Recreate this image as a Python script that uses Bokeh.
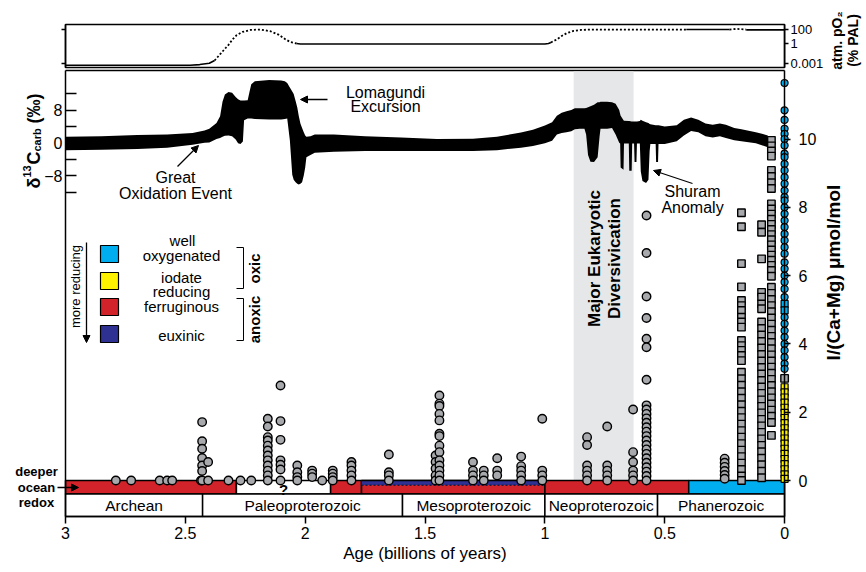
import numpy as np
from bokeh.plotting import figure
from bokeh.models import (Range1d, LinearAxis, FixedTicker, Label, Arrow,
                          NormalHead, NumeralTickFormatter)
from bokeh.embed import file_html
from bokeh.resources import INLINE

FONT = "Liberation Sans"

# ---------------- data ----------------
# atmospheric O2, log10(% PAL)
o2_solid_a_age = [3.0, 2.48, 2.44, 2.40, 2.378]
o2_solid_a_val = [-3.2, -3.2, -3.1, -2.9, -2.5]
o2_dot_a_age = [2.378, 2.353, 2.333, 2.320, 2.303, 2.287, 2.262, 2.228, 2.186, 2.145, 2.111, 2.082, 2.061, 2.036]
o2_dot_a_val = [-2.5, -1.5, -0.7, -0.2, 0.6, 1.2, 1.7, 2.0, 2.05, 1.8, 1.3, 0.6, 0.2, 0.0]
o2_solid_b_age = [2.036, 2.02, 1.0, 0.985, 0.975]
o2_solid_b_val = [0.0, -0.08, -0.08, 0.0, 0.15]
o2_dot_b_age = [0.975, 0.95, 0.93, 0.91, 0.88, 0.85, 0.80, 0.41]
o2_dot_b_val = [0.15, 0.6, 1.1, 1.5, 1.85, 2.0, 2.05, 2.05]
o2_solid_c_age = [0.41, 0.23]
o2_solid_c_val = [2.05, 2.05]
o2_dot_c_age = [0.23, 0.20, 0.16]
o2_dot_c_val = [2.05, 2.15, 2.05]
o2_solid_d_age = [0.16, 0.0]
o2_solid_d_val = [2.0, 2.0]

# delta13C carb envelope (permil)
c_age = [3.00, 2.85, 2.70, 2.576, 2.47, 2.42, 2.40, 2.37, 2.355, 2.345,
         2.335, 2.32, 2.305, 2.29, 2.28, 2.27, 2.26, 2.255, 2.240, 2.232,
         2.225, 2.21, 2.15, 2.10, 2.085, 2.075, 2.064, 2.054, 2.048, 2.040,
         2.033, 2.027, 2.020, 2.013, 2.006, 2.000, 1.995, 1.978, 1.96, 1.88,
         1.75, 1.60, 1.45, 1.30, 1.20, 1.10, 1.05, 1.00, 0.97, 0.95,
         0.93, 0.91, 0.89, 0.875, 0.855, 0.835, 0.828, 0.82, 0.81, 0.795,
         0.78, 0.772, 0.768, 0.74, 0.72, 0.705,
         0.69, 0.686, 0.684, 0.672, 0.670, 0.650, 0.648, 0.638, 0.636, 0.628,
         0.626, 0.618, 0.616, 0.604, 0.600, 0.593, 0.578, 0.568, 0.563, 0.560,
         0.538, 0.536, 0.528, 0.526, 0.50,
         0.45, 0.42, 0.39, 0.36, 0.33, 0.30, 0.27, 0.245, 0.21, 0.18, 0.12, 0.07]
c_hi = [1.5, 1.6, 1.9, 2.0, 2.4, 3.0, 3.4, 4.8, 6.5, 10.0,
        11.8, 12.4, 12.2, 11.2, 10.6, 10.3, 10.3, 10.3, 10.4, 12.5,
        14.3, 15.0, 15.3, 15.2, 15.0, 14.6, 13.5, 12.5, 11.9, 10.2,
        8.6, 6.6, 4.7, 3.6, 2.6, 1.8, 1.5, 1.6, 2.0, 2.0,
        1.6, 1.3, 0.9, 1.0, 1.5, 2.5, 3.2, 4.2, 5.0, 6.6,
        7.3, 7.7, 8.0, 8.4, 8.4, 8.4, 8.5, 8.7, 8.9, 9.3,
        9.9, 9.9, 10.0, 10.0, 9.9, 9.5,
        8.0, 7.0, 6.6, 5.5, 5.4, 5.3, 5.3, 5.2, 5.2, 5.2,
        5.2, 5.2, 5.2, 5.3, 5.6, 5.4, 5.0, 4.8, 4.6, 4.5,
        4.3, 4.3, 4.3, 4.3, 4.0,
        4.3, 5.6, 6.2, 5.6, 4.7, 4.4, 4.7, 4.4, 3.6, 3.3, 2.6, 1.8]
c_lo = [-1.8, -1.7, -1.5, -1.2, -0.5, 0.0, 0.1, 0.9, 1.2, 1.5,
        1.7, 1.8, 1.6, 0.8, -0.1, -0.3, 0.3, 5.5, 5.9, 5.9,
        5.9, 5.8, 5.7, 5.7, 5.8, 5.9, 0.6, -7.8, -9.0, -9.6,
        -10.0, -10.2, -10.0, -9.6, -8.0, -6.0, -3.5, -3.0, -2.4, -2.2,
        -2.0, -2.0, -2.0, -2.0, -1.8, -1.2, -0.8, -0.1, 0.5, 2.0,
        2.4, 2.6, 2.8, 3.3, 3.4, 3.4, 2.0, -3.0, -4.6, -4.7,
        -3.5, 1.5, 3.4, 3.4, 3.6, 2.0,
        0.0, -0.2, -6.0, -6.6, -0.2, -0.2, -6.8, -6.8, -0.2, -0.2,
        -4.7, -4.7, -0.2, -0.2, -7.0, -9.3, -9.8, -9.0, -2.0, -0.3,
        -0.3, -4.7, -4.7, -0.3, -0.3,
        0.4, 1.8, 2.9, 2.6, 1.6, 1.3, 1.6, 1.2, 0.6, 0.4, -0.1, -1.1]

# I/(Ca+Mg) gray circles: one age per column, list of values
circ_age = [2.79, 2.726, 2.607, 2.576, 2.555, 2.435, 2.43, 2.405, 2.32, 2.27, 2.225,
            2.156, 2.103, 2.033, 1.971, 1.929, 1.885, 1.807, 1.651,
            1.456, 1.44, 1.30, 1.255, 1.199, 1.099, 1.011,
            0.824, 0.74, 0.632, 0.576, 0.25]
circ_vals = [[0], [0], [0], [0], [0], [0],
             [1.71, 1.15, 0.93, 0.66, 0.44, 0.28, 0],
             [0.54, 0], [0], [0], [0],
             [1.81, 1.58, 1.27, 1.17, 1.02, 0.88, 0.73, 0.59, 0.44, 0.29, 0.15, 0],
             [2.78, 1.74, 1.19, 0.59, 0.46, 0.32, 0],
             [0.44, 0.24, 0.1, 0],
             [0.29, 0.2, 0.1],
             [0],
             [0.29, 0.2, 0.1, 0],
             [0.54, 0.44, 0.29, 0.15, 0],
             [0.76, 0.24, 0.15, 0],
             [0.73, 0.54, 0.35, 0.15, 0],
             [2.49, 2.25, 2.18, 1.95, 1.76, 1.37, 1.3, 1.02, 0.83, 0.59, 0.44, 0.29, 0.15, 0],
             [0.54, 0.29, 0.15, 0],
             [0.29, 0.15, 0],
             [0.65, 0.29, 0.15],
             [0.70, 0.42, 0.29, 0.15, 0],
             [1.81, 0.29, 0.15, 0],
             [1.27, 1.04, 0.44, 0.29, 0.15, 0],
             [1.58, 0.44, 0.29, 0.15, 0],
             [2.08, 0.83, 0.54, 0.29, 0.15, 0],
             [7.76, 6.66, 5.39, 4.76, 4.15, 3.9, 2.95, 2.2, 2.08, 1.95, 1.82, 1.69, 1.56,
              1.43, 1.3, 1.17, 1.04, 0.91, 0.78, 0.65, 0.52, 0.39, 0.26, 0.13, 0],
             [0.64, 0.52, 0.4, 0.28, 0.16, 0.05]]

# gray squares (Phanerozoic)
sq_age = [0.18, 0.096, 0.055, 0.0]
sq_vals = [[7.84, 7.43, 6.35, 5.67, 5.27, 5.12, 4.98, 4.78, 4.64, 4.49, 4.1, 3.95, 3.81, 3.66,
            3.51, 3.17, 2.98, 2.79, 2.6, 2.41, 2.22, 2.03, 1.84, 1.65, 1.46, 1.27, 1.08, 0.89,
            0.7, 0.51, 0.32, 0.13, 0.0],
           [7.49, 7.27, 6.49, 5.51, 5.37, 5.17, 5.03, 4.64, 4.45, 4.26, 4.07, 3.88, 3.69, 3.5,
            3.31, 3.12, 2.93, 2.74, 2.55, 2.36, 2.17, 1.98, 1.79, 1.6, 1.41, 1.22, 1.03, 0.84,
            0.65, 0.46, 0.27, 0.08],
           [9.96, 9.8, 9.65, 9.5, 9.08, 8.9, 8.72, 8.55, 8.1, 7.95, 7.8, 7.65, 7.5, 7.35, 7.2,
            7.05, 6.9, 6.75, 6.6, 6.45, 6.3, 6.15, 5.98, 5.66, 5.48, 5.3, 5.12, 4.94, 4.76, 4.58,
            4.4, 4.22, 4.04, 3.86, 3.68, 3.5, 3.32, 3.14, 2.96, 2.78, 2.6, 2.42, 2.24, 2.06,
            1.88, 1.7, 1.32],
           [2.99]]

# modern (age 0) samples
blue_circ = [11.64, 10.84, 10.56, 10.3, 10.15, 10.0, 9.81, 9.57, 9.47, 9.27, 9.08, 8.88,
             8.69, 8.49, 8.3, 8.2, 8.0, 7.81, 7.61, 7.42, 7.22, 7.03, 6.83, 6.64, 6.39,
             6.2, 6.0, 5.81, 5.61, 5.37, 4.78, 4.59, 4.39, 4.2, 4.0, 3.81, 3.61, 3.42, 3.27]
blue_sq = [5.17, 4.98]
yellow_sq = [2.73, 2.58, 2.43, 2.28, 2.13, 1.98, 1.83, 1.68, 1.53, 1.38, 1.23, 1.08,
             0.93, 0.78, 0.63, 0.48, 0.33, 0.18, 0.05]

# eons
eon_names = ["Archean", "Paleoproterozoic", "Mesoproterozoic", "Neoproterozoic", "Phanerozoic"]
eon_start = [3.0, 2.428, 1.594, 1.0, 0.53]
eon_end = [2.428, 1.594, 1.0, 0.53, 0.0]

# deeper ocean redox state
redox_start = [3.0, 2.287, 1.894, 1.765, 1.0, 0.40]
redox_end = [2.287, 1.894, 1.765, 1.0, 0.40, 0.0]
redox_state = ["ferruginous", "unknown", "ferruginous", "euxinic", "ferruginous", "oxic"]

euk_start, euk_end = 0.88, 0.63

COL = {"oxic": "#00aeef", "iodate": "#fff200", "ferruginous": "#d2232a",
       "euxinic": "#2e3192", "unknown": "white"}

# ---------------- pixel helpers (layout only) ----------------
W, H = 862, 568


def ax(px):
    return 3.0 - (px - 65.0) / 239.7


def ay(py):
    return (480.0 - py) / 34.15


def ac(py):
    return (142.3 - py) / 4.1


def ao(py):
    return (43.0 - py) / 6.8


p = figure(width=W, height=H, x_range=Range1d(ax(0), ax(W)), y_range=Range1d(ay(H), ay(0)),
           y_axis_location="right", output_backend="svg", toolbar_location=None, min_border=0)
p.extra_y_ranges = {"d13c": Range1d(ac(H), ac(0)), "o2": Range1d(ao(H), ao(0))}
p.grid.visible = False
p.outline_line_color = None


def txt(x, y, s, size=16, bold=False, angle=0.0, align="center", baseline="middle", yname="default"):
    p.add_layout(Label(x=x, y=y, y_range_name=yname, text=s, text_font=FONT, text_font_size=f"{size}px",
                       text_font_style="bold" if bold else "normal", angle=angle,
                       text_align=align, text_baseline=baseline, text_color="black"))


def arrow(x0, y0, x1, y1):
    p.add_layout(Arrow(end=NormalHead(size=7, fill_color="black", line_color="black", line_width=1),
                       x_start=x0, y_start=y0, x_end=x1, y_end=y1,
                       line_width=1.3, line_color="black"))


def style_axis(a, size="16px"):
    a.axis_line_width = 1.5
    a.major_tick_line_width = 1.5
    a.minor_tick_out = 0
    a.minor_tick_in = 0
    a.major_tick_in = 0
    a.major_label_text_font = FONT
    a.major_label_text_font_size = size
    a.major_label_text_color = "black"
    a.axis_line_color = "black"
    a.major_tick_line_color = "black"


# ---------------- axes ----------------
xa = p.xaxis[0]
style_axis(xa)
xa.fixed_location = ay(516)
xa.bounds = (0, 3)
xa.ticker = FixedTicker(ticks=[0, 0.5, 1, 1.5, 2, 2.5, 3])
xa.formatter = NumeralTickFormatter(format="0.[0]")
xa.major_tick_out = 7
xa.major_label_standoff = 3
xa.axis_label = "Age (billions of years)"
xa.axis_label_text_font = FONT
xa.axis_label_text_font_size = "17px"
xa.axis_label_text_font_style = "normal"
xa.axis_label_text_color = "black"
xa.axis_label_standoff = 2

ra = p.yaxis[0]
style_axis(ra)
ra.fixed_location = 0
ra.bounds = (ay(516), ay(70))
ra.ticker = FixedTicker(ticks=[0, 2, 4, 6, 8, 10])
ra.major_tick_out = 6
ra.major_label_standoff = 8

la = LinearAxis(y_range_name="d13c", ticker=FixedTicker(ticks=[-12, -8, -4, 0, 4, 8, 12]),
                major_label_overrides={-12: "", -8: "−8", -4: "", 0: "0", 4: "", 8: "8", 12: ""},
                fixed_location=3.0, bounds=(ac(516), ac(70)))
style_axis(la)
la.major_tick_in = 11
la.major_tick_out = 0
la.major_label_standoff = 3
p.add_layout(la, "left")

o2r = LinearAxis(y_range_name="o2", ticker=FixedTicker(ticks=[-3, 0, 2]),
                 major_label_overrides={-3: "0.001", 0: "1", 2: "100"},
                 fixed_location=0.0, bounds=(ao(67), ao(24)))
style_axis(o2r, "13px")
o2r.major_tick_out = 4
o2r.major_label_standoff = 2
p.add_layout(o2r, "right")

o2l = LinearAxis(y_range_name="o2", ticker=FixedTicker(ticks=[-3, 2]),
                 major_label_overrides={-3: "", 2: ""},
                 fixed_location=3.0, bounds=(ao(67), ao(24)))
style_axis(o2l, "13px")
o2l.major_tick_out = 4
p.add_layout(o2l, "left")

# ---------------- O2 panel ----------------
p.quad(left=[3.0], right=[0.0], bottom=[ao(67)], top=[ao(24)], y_range_name="o2",
       fill_color=None, line_color="black", line_width=1.5)
for a, v in [(o2_solid_a_age, o2_solid_a_val), (o2_solid_b_age, o2_solid_b_val),
             (o2_solid_c_age, o2_solid_c_val), (o2_solid_d_age, o2_solid_d_val)]:
    p.line(a, v, y_range_name="o2", line_color="black", line_width=1.6)
for a, v in [(o2_dot_a_age, o2_dot_a_val), (o2_dot_b_age, o2_dot_b_val), (o2_dot_c_age, o2_dot_c_val)]:
    p.line(a, v, y_range_name="o2", line_color="black", line_width=1.8, line_dash="2 2")
txt(ax(836), ao(40), "atm. pO₂", size=14, bold=True, angle=np.pi / 2, yname="o2")
txt(ax(852), ao(40), "(% PAL)", size=14, bold=True, angle=np.pi / 2, yname="o2")

# ---------------- main panel ----------------
p.line([3.0, 0.0], [ay(70), ay(70)], line_color="black", line_width=1.5)

# eukaryotic diversification band
p.quad(left=[euk_start], right=[euk_end], bottom=[0], top=[ay(71)],
       fill_color="#e6e7e8", line_color=None)

# d13C band
p.varea(x=c_age, y1=c_lo, y2=c_hi, y_range_name="d13c", fill_color="black")

# redox bar
bar_top, bar_bot = 0.0, ay(493.5)
for s, e, st in zip(redox_start, redox_end, redox_state):
    fc = COL["ferruginous"] if st == "euxinic" else COL[st]
    p.quad(left=[s], right=[e], bottom=[bar_bot], top=[bar_top],
           fill_color=fc, line_color="black", line_width=1.5)
    if st == "euxinic":
        p.quad(left=[s], right=[e], bottom=[ay(484.5)], top=[bar_top],
               fill_color=COL["euxinic"], line_color=None)
        p.line([s, e], [ay(484.8), ay(484.8)], line_color="#1a1a40", line_width=1.5, line_dash="2 2")
        p.line([s, e], [bar_top, bar_top], line_color="black", line_width=1.5)
    if st == "unknown":
        txt((s + e) / 2, ay(489), "?", size=15, bold=True)

# eon boxes
for n, s, e in zip(eon_names, eon_start, eon_end):
    p.quad(left=[s], right=[e], bottom=[ay(516)], top=[bar_bot],
           fill_color="white", line_color="black", line_width=1.5)
    txt((s + e) / 2, ay(505), n, size=15.5)

# points
cx, cy = [], []
for a, vs in zip(circ_age, circ_vals):
    cx += [a] * len(vs)
    cy += vs
p.scatter(cx, cy, marker="circle", size=8.5, fill_color="#a7a9ac", line_color="black", line_width=1.4)

sx, sy = [], []
for a, vs in zip(sq_age, sq_vals):
    sx += [a] * len(vs)
    sy += vs
p.scatter(sx, sy, marker="square", size=7.5, fill_color="#a7a9ac", line_color="black", line_width=1.4)

p.scatter([0.0] * len(yellow_sq), yellow_sq, marker="square", size=7, fill_color=COL["iodate"],
          line_color="black", line_width=1.2)
p.scatter([0.0] * len(blue_sq), blue_sq, marker="square", size=7, fill_color=COL["oxic"],
          line_color="black", line_width=1.2)
p.scatter([0.0] * len(blue_circ), blue_circ, marker="circle", size=7, fill_color=COL["oxic"],
          line_color="black", line_width=1.2)

# annotations
txt(ax(385), ay(92), "Lomagundi")
txt(ax(385), ay(106), "Excursion")
arrow(ax(327), ay(99), ax(300), ay(99))
txt(ax(175), ay(177), "Great")
txt(ax(175), ay(193), "Oxidation Event")
arrow(ax(177), ay(166), ax(198), ay(145))
txt(ax(692), ay(191), "Shuram")
txt(ax(692), ay(207), "Anomaly")
arrow(ax(692), ay(183), ax(653), ay(170))
txt(ax(594), ay(258), "Major Eukaryotic", size=17, bold=True, angle=np.pi / 2)
txt(ax(614), ay(258), "Diversivication", size=17, bold=True, angle=np.pi / 2)

# left axis title (delta 13C carb)
txt(ax(33), ay(188), "δ", size=18, bold=True, angle=np.pi / 2, align="left", baseline="alphabetic")
txt(ax(26), ay(177), "13", size=11, bold=True, angle=np.pi / 2, align="left", baseline="alphabetic")
txt(ax(33), ay(164), "C", size=18, bold=True, angle=np.pi / 2, align="left", baseline="alphabetic")
txt(ax(36), ay(151), "carb", size=11, bold=True, angle=np.pi / 2, align="left", baseline="alphabetic")
txt(ax(33), ay(123), "(‰)", size=18, bold=True, angle=np.pi / 2, align="left", baseline="alphabetic")

# right axis title
txt(ax(833), ay(272), "I/(Ca+Mg) μmol/mol", size=19, bold=True, angle=np.pi / 2)

# deeper ocean redox
txt(ax(36), ay(471), "deeper", size=13, bold=True)
txt(ax(36), ay(487), "ocean", size=13, bold=True)
txt(ax(36), ay(502), "redox", size=13, bold=True)
arrow(ax(57), ay(487), ax(78), ay(487))

# legend
leg_cols = [COL["oxic"], COL["iodate"], COL["ferruginous"], COL["euxinic"]]
leg_top = [245, 272, 298, 325]
for c, t in zip(leg_cols, leg_top):
    p.quad(left=[ax(100)], right=[ax(118)], top=[ay(t)], bottom=[ay(t + 17)],
           fill_color=c, line_color="black", line_width=1.2)
txt(ax(182), ay(240), "well", size=15)
txt(ax(181), ay(255), "oxygenated", size=15)
txt(ax(181), ay(277), "iodate", size=15)
txt(ax(181), ay(291), "reducing", size=15)
txt(ax(181), ay(306), "ferruginous", size=15)
txt(ax(181), ay(335), "euxinic", size=15)
p.line([ax(236), ax(243), ax(243), ax(236)], [ay(247), ay(247), ay(288), ay(288)],
       line_color="black", line_width=1)
p.line([ax(236), ax(243), ax(243), ax(236)], [ay(298), ay(298), ay(340), ay(340)],
       line_color="black", line_width=1)
txt(ax(254), ay(268), "oxic", size=15, bold=True, angle=np.pi / 2)
txt(ax(254), ay(319), "anoxic", size=15, bold=True, angle=np.pi / 2)
txt(ax(75), ay(286), "more reducing", size=13, angle=np.pi / 2)
arrow(ax(86), ay(242), ax(86), ay(342))

open("out.html", "w").write(file_html(p, INLINE))
